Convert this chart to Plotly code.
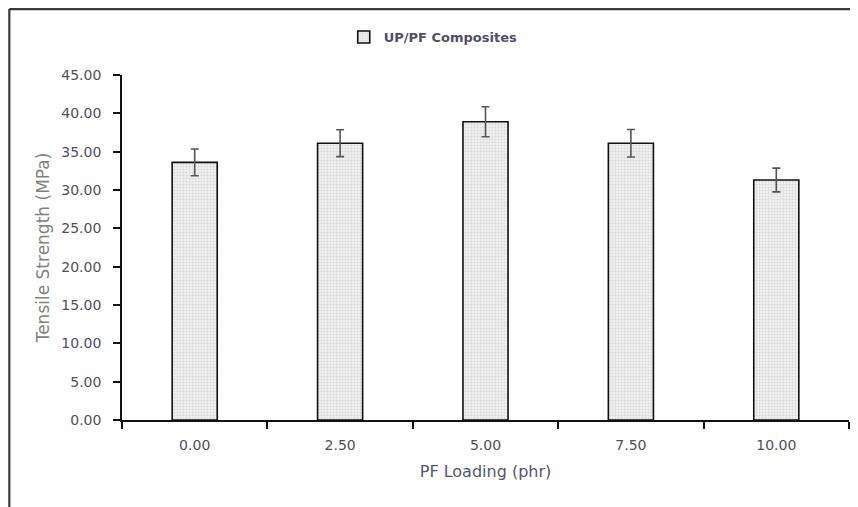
import plotly.graph_objects as go

categories = ["0.00", "2.50", "5.00", "7.50", "10.00"]
tensile = [33.6, 36.1, 38.9, 36.1, 31.3]
errors = [1.75, 1.75, 1.95, 1.8, 1.55]
y_ticks = [0, 5, 10, 15, 20, 25, 30, 35, 40, 45]
series_name = "UP/PF Composites"

FONT = "'DejaVu Sans', sans-serif"

fig = go.Figure()
fig.add_trace(go.Bar(
    x=categories,
    y=tensile,
    name=series_name,
    marker=dict(
        color="#ececec",
        line=dict(color="#111111", width=1.6),
        pattern=dict(shape=".", fgcolor="#c4c4c4", bgcolor="#efefef", size=3, solidity=0.35),
    ),
    error_y=dict(type="data", array=errors, visible=True, color="#555555", thickness=1.6, width=4),
    showlegend=True,
))

fig.update_layout(
    width=850, height=499,
    margin=dict(l=114, r=9, t=67, b=87),
    paper_bgcolor="white", plot_bgcolor="white",
    bargap=0.69,
    font=dict(family=FONT, color="#595959"),
    showlegend=True,
    legend=dict(
        orientation="h", x=0.305, y=1.11, xanchor="left", yanchor="middle",
        font=dict(family=FONT, size=13, color="#4f4f66", weight="bold"),
        bgcolor="rgba(0,0,0,0)", itemwidth=30,
    ),
    xaxis=dict(
        type="category",
        showline=True, linecolor="#111111", linewidth=1.6,
        ticks="outside", tickson="boundaries", ticklen=7, tickcolor="#111111", tickwidth=1.6,
        tickfont=dict(family=FONT, size=14, color="#4f4f60"),
        ticklabelstandoff=11,
        showgrid=False, zeroline=False,
        title=dict(text="PF Loading (phr)", font=dict(family=FONT, size=16, color="#56566a"), standoff=14),
    ),
    yaxis=dict(
        range=[0, 45],
        tickvals=y_ticks, tickformat=".2f",
        showline=True, linecolor="#111111", linewidth=1.6,
        ticks="outside", ticklen=7, tickcolor="#111111", tickwidth=1.6,
        tickfont=dict(family=FONT, size=14, color="#4f4f60"),
        ticklabelstandoff=9,
        showgrid=False, zeroline=False,
        title=dict(text="Tensile Strength (MPa)", font=dict(family=FONT, size=17, color="#828282"), standoff=7),
    ),
)

# outer chart frame (top and left edges visible)
fig.add_shape(type="line", xref="paper", yref="paper", x0=-0.155, x1=1.03, y0=1.191, y1=1.191,
              line=dict(color="#3a3a3a", width=2.2))
fig.add_shape(type="line", xref="paper", yref="paper", x0=-0.155, x1=-0.155, y0=1.191, y1=-0.3,
              line=dict(color="#3a3a3a", width=2.2))

fig.write_html("out.html")
